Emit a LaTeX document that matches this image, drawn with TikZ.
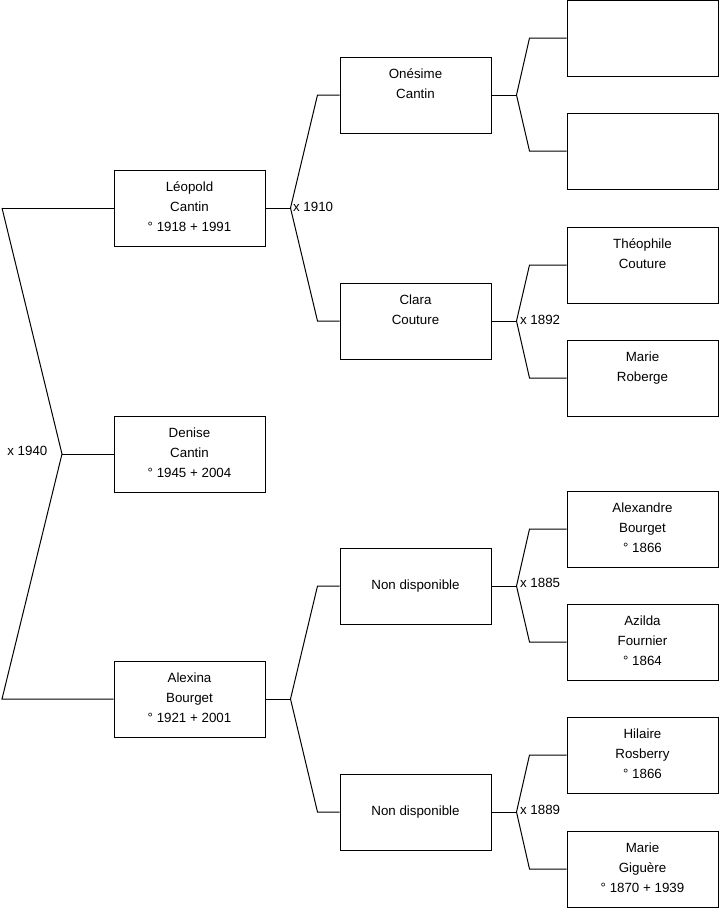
\documentclass[tikz,border=0pt]{standalone}
\usepackage{fontspec}
\setmainfont{Liberation Sans}
\usepackage{tikz}
\usetikzlibrary{calc}
\newcommand{\pname}[1]{\parbox[c][57pt][t]{110pt}{\centering\vspace*{5.8pt}\strut #1}}

\begin{document}
\begin{tikzpicture}[x=0.75pt, y=-0.75pt,
    every node/.style={font=\fontsize{10}{15}\selectfont},
    person/.style={draw, line width=0.75pt, rectangle, inner sep=0pt,
                   minimum width=113.25pt, minimum height=57pt},
    link/.style={line width=0.75pt},
    marr/.style={inner sep=1pt}]
  \useasboundingbox (0,0) rectangle (719,908);

     % -------------------------
     % Generation 1 and 2
     % -------------------------
      \node[person] (leo) at (189.5,208) {\pname{L\'eopold\\Cantin\\\textdegree\ 1918 + 1991}};
      \node[person] (den) at (189.5,454) {\pname{Denise\\Cantin\\\textdegree\ 1945 + 2004}};
      \node[person] (alx) at (189.5,699) {\pname{Alexina\\Bourget\\\textdegree\ 1921 + 2001}};

      % Left fork
      \coordinate (Ltop) at (2,208);
      \coordinate (Lbot) at (2,699);
      \coordinate (J0) at (62,454);
      \draw[link] (Ltop) -- (leo.west);
      \draw[link] (Ltop) -- (J0) -- (Lbot) -- (alx.west);
      \draw[link] (J0) -- (den.west);
      \node[marr, anchor=east] (m1940) at (49,451) {x 1940};

     % -------------------------
     % Generation 3
     % -------------------------
      \node[person] (one) at (415.5,95)  {\pname{On\'esime\\Cantin}};
      \node[person] (cla) at (415.5,321) {\pname{Clara\\Couture}};
      \node[person] (nd1) at (415.5,586) {Non disponible};
      \node[person] (nd2) at (415.5,812) {Non disponible};

      % Forks to generation 3
      \foreach \src/\up/\dn in {leo/one/cla, alx/nd1/nd2}{
        \coordinate (J\src) at ($(\src.east)+(25,0)$);
        \draw[link] (\src.east) -- (J\src);
        \draw[link] (J\src) -- ($(\up.west)+(-22,0)$) -- (\up.west);
        \draw[link] (J\src) -- ($(\dn.west)+(-22,0)$) -- (\dn.west);
      }
      \node[marr, anchor=west] (m1910) at ($(Jleo)+(1,-1)$) {x 1910};

     % -------------------------
     % Generation 4
     % -------------------------
      \node[person] (r1) at (642.5,38)  {};
      \node[person] (r2) at (642.5,151) {};
      \node[person] (r3) at (642.5,265) {\pname{Th\'eophile\\Couture}};
      \node[person] (r4) at (642.5,378) {\pname{Marie\\Roberge}};
      \node[person] (r5) at (642.5,529) {\pname{Alexandre\\Bourget\\\textdegree\ 1866}};
      \node[person] (r6) at (642.5,642) {\pname{Azilda\\Fournier\\\textdegree\ 1864}};
      \node[person] (r7) at (642.5,755) {\pname{Hilaire\\Rosberry\\\textdegree\ 1866}};
      \node[person] (r8) at (642.5,869) {\pname{Marie\\Gigu\`ere\\\textdegree\ 1870 + 1939}};

      % Forks to generation 4
      \foreach \src/\up/\dn in {one/r1/r2, cla/r3/r4, nd1/r5/r6, nd2/r7/r8}{
        \coordinate (J\src) at ($(\src.east)+(25,0)$);
        \draw[link] (\src.east) -- (J\src);
        \draw[link] (J\src) -- ($(\up.west)+(-37,0)$) -- (\up.west);
        \draw[link] (J\src) -- ($(\dn.west)+(-37,0)$) -- (\dn.west);
      }
      \node[marr, anchor=west] (m1892) at ($(Jcla)+(2,-1)$) {x 1892};
      \node[marr, anchor=west] (m1885) at ($(Jnd1)+(2,-3)$) {x 1885};
      \node[marr, anchor=west] (m1889) at ($(Jnd2)+(2,-2)$) {x 1889};
\end{tikzpicture}
\end{document}
